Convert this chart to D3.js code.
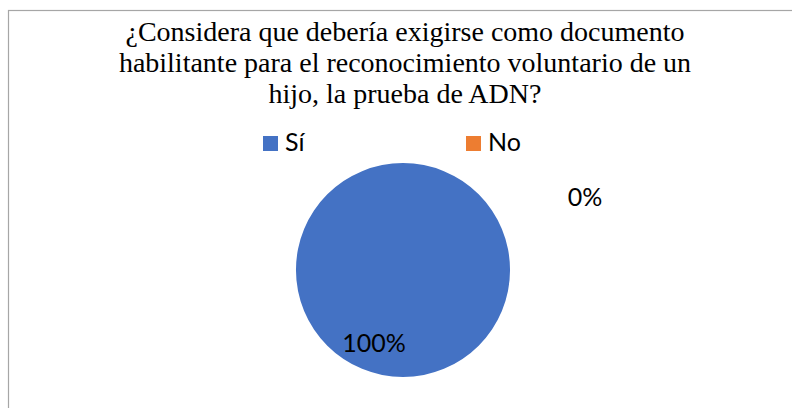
<!DOCTYPE html>
<html>
<head>
<meta charset="utf-8">
<script src="https://cdn.jsdelivr.net/npm/d3@7"></script>
<style>
  body { margin: 0; background: #fff; }
  svg { display: block; }
</style>
</head>
<body>
<svg id="chart" width="792" height="408"></svg>
<script>
// data
const categories = ["Sí", "No"];
const values = [100, 0];
const colors = ["#4472C4", "#ED7D31"];
const titleLines = [
    "¿Considera que debería exigirse como documento",
    "habilitante para el reconocimiento voluntario de un",
    "hijo, la prueba de ADN?"
];

const svg = d3.select("#chart");
const width = 792, height = 408;

// chart frame (clipped at right and bottom like the original)
svg.append("rect")
    .attr("x", 8.5).attr("y", 10.5)
    .attr("width", 800).attr("height", 420)
    .attr("fill", "#fff")
    .attr("stroke", "#a6a6a6")
    .attr("stroke-width", 1.2);

// title
svg.append("text")
    .attr("text-anchor", "middle")
    .attr("font-family", "'Liberation Serif', 'Times New Roman', serif")
    .attr("font-size", 28)
    .attr("fill", "#000")
    .selectAll("tspan")
    .data(titleLines)
    .enter().append("tspan")
    .attr("x", 405)
    .attr("y", (d, i) => 41 + i * 31)
    .text(d => d);

// legend
const legendX = d3.scaleOrdinal().domain(categories).range([263, 466]);
const legend = svg.selectAll(".legend")
    .data(categories)
    .enter().append("g")
    .attr("class", "legend")
    .attr("transform", d => `translate(${legendX(d)},136)`);

legend.append("rect")
    .attr("width", 15).attr("height", 15)
    .attr("fill", (d, i) => colors[i]);

legend.append("text")
    .attr("x", 22)
    .attr("y", 15)
    .attr("font-family", "Lato, 'Open Sans', sans-serif")
    .attr("font-size", 25)
    .attr("fill", "#000")
    .text(d => d);

// pie
const cx = 403, cy = 270, radius = 107;
const pie = d3.pie().sort(null).value(d => d)(values);
const arc = d3.arc().innerRadius(0).outerRadius(radius);

const g = svg.append("g").attr("transform", `translate(${cx},${cy})`);
g.selectAll("path")
    .data(pie)
    .enter().append("path")
    .attr("d", arc)
    .attr("fill", (d, i) => colors[i]);

// data labels
const labelPos = [[-29, 82], [182, -64]];
g.selectAll(".lbl")
    .data(pie)
    .enter().append("text")
    .attr("class", "lbl")
    .attr("x", (d, i) => labelPos[i][0])
    .attr("y", (d, i) => labelPos[i][1])
    .attr("text-anchor", "middle")
    .attr("font-family", "Lato, 'Open Sans', sans-serif")
    .attr("font-size", 25)
    .attr("fill", "#000")
    .text(d => d3.format(".0f")(d.data) + "%");
</script>
</body>
</html>
